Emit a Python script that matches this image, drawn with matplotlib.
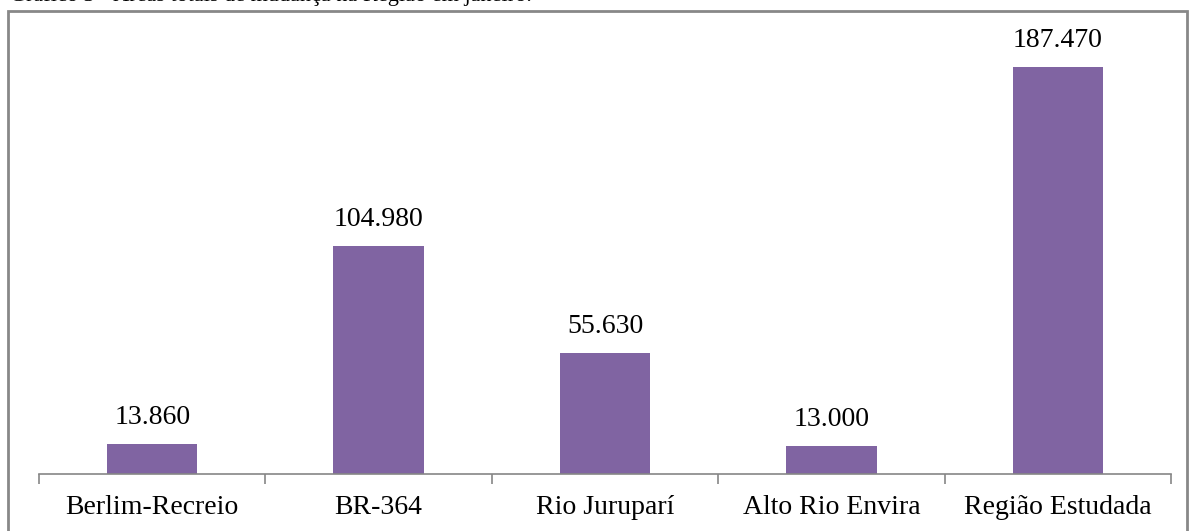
import matplotlib.pyplot as plt
from matplotlib.patches import Rectangle

categorias = ['Berlim-Recreio', 'BR-364', 'Rio Juruparí', 'Alto Rio Envira', 'Região Estudada']
valores = [13860, 104980, 55630, 13000, 187470]
rotulos = ['13.860', '104.980', '55.630', '13.000', '187.470']

plt.rcParams['font.family'] = ['Liberation Serif', 'DejaVu Serif']

fig = plt.figure(figsize=(11.9, 5.31), dpi=100)
ax = fig.add_axes([39 / 1190, 57 / 531, 1132 / 1190, 444 / 531])

x = list(range(len(categorias)))
ax.bar(x, valores, width=0.4, color='#8064A2')
for xi, v, r in zip(x, valores, rotulos):
    ax.annotate(r, (xi, v), xytext=(0, 10), textcoords='offset points',
                ha='center', va='bottom', fontsize=20)

ax.set_xlim(-0.5, len(categorias) - 0.5)
ax.set_ylim(0, 204500)
ax.set_yticks([])
ax.set_xticks(x)
ax.set_xticklabels(categorias, fontsize=20)
ax.set_xticks([i - 0.5 for i in range(len(categorias) + 1)], minor=True)
ax.tick_params(axis='x', which='major', length=0, pad=15)
ax.tick_params(axis='x', which='minor', length=7, color='#868686', width=1.2)
for s in ['top', 'right', 'left']:
    ax.spines[s].set_visible(False)
ax.spines['bottom'].set_color('#868686')
ax.spines['bottom'].set_linewidth(1.2)

# moldura externa
fig.patches.append(Rectangle((8 / 1190, -0.05), 1179 / 1190, 1.05 - 11 / 531,
                             transform=fig.transFigure, fill=False,
                             edgecolor='#888888', linewidth=2))

# título cortado no topo
fig.text(10 / 1190, 1 - 1.5 / 531,
         'Gráfico 3 - Áreas totais de mudança na Região em janeiro.',
         fontsize=16, ha='left', va='baseline')

fig.savefig('out.png', dpi=100)
